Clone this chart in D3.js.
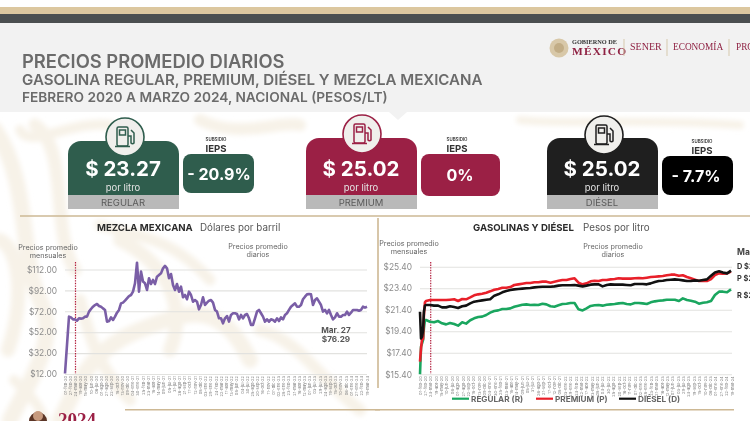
<!DOCTYPE html>
<html><head><meta charset="utf-8">
<script src="https://cdn.jsdelivr.net/npm/d3@7"></script>
<style>
html,body{margin:0;padding:0;background:#fff;overflow:hidden}
svg{display:block;font-family:Inter,"Open Sans",sans-serif;filter:blur(.35px)}
</style></head><body><svg id="c" width="750" height="421"></svg>
<script>
// ---------- data ----------
const tickLabels=["01-feb-20","27-feb-20","24-mar-20","19-abr-20","15-may-20","10-jun-20","06-jul-20","01-ago-20","27-ago-20","22-sep-20","18-oct-20","13-nov-20","09-dic-20","04-ene-21","30-ene-21","25-feb-21","23-mar-21","18-abr-21","14-may-21","09-jun-21","05-jul-21","31-jul-21","26-ago-21","21-sep-21","17-oct-21","12-nov-21","08-dic-21","03-ene-22","29-ene-22","24-feb-22","22-mar-22","17-abr-22","13-may-22","08-jun-22","04-jul-22","30-jul-22","25-ago-22","20-sep-22","16-oct-22","11-nov-22","07-dic-22","02-ene-23","28-ene-23","23-feb-23","21-mar-23","16-abr-23","12-may-23","07-jun-23","03-jul-23","29-jul-23","24-ago-23","19-sep-23","15-oct-23","10-nov-23","06-dic-23","01-ene-24","27-ene-24","22-feb-24","19-mar-24"];
const mezclaTicks=[12,32,52,72,92,112];
const gasTicks=[15.4,17.4,19.4,21.4,23.4,25.4];
const mezcla=[12.5,39.8,66.9,66.2,64.3,64.3,63,65.3,65,65.3,66.9,66.9,71.7,74.2,76.4,78,79,77.1,76.4,74.8,73.3,62.1,62.7,66.2,63.7,66.9,70.7,73.3,79.6,80.3,82.2,84.4,86.6,87.6,90.8,98.8,118.5,90.8,110,100.4,98.8,92.4,103.6,98.1,102,98.1,105.1,106.7,108.3,113.1,115.4,113.1,103.6,107.7,97.2,92.4,98.1,90.8,95.6,85.4,87.6,83.5,90.8,87.6,81.2,82.8,81.2,73.9,78,85.4,78,80.3,82.2,82.8,80.3,73.3,71.7,65.3,65.3,60.5,65.3,67.5,62.1,68.5,70.1,70.1,69.4,64.3,68.5,65.3,68.5,69.4,65.3,58.9,58.9,65.3,71.7,73.3,70.1,66.9,62.1,64.3,62.1,64.3,63.7,62.1,65.3,62.7,66.2,64.3,68.5,70.1,73.3,76.4,78,79.6,76.4,76.4,78,83.5,86,88.2,88.6,88.2,78,82.8,84.4,81.2,78,71.7,73.3,70.1,73.3,68.5,64.3,66.2,70.1,66.9,66.9,68.5,68.5,71.7,68.5,70.7,73.3,73.3,73.3,72.6,73.3,76.4,75.5,76.3];
const gasDays=[0,5,10,15,19,24,29,49,68,88,107,127,146,166,185,205,224,244,263,283,302,322,341,361,380,400,419,439,458,478,497,517,536,556,575,595,614,634,653,673,692,712,731,751,770,790,809,829,848,868,887,907,926,946,965,985,1004,1024,1043,1063,1082,1102,1121,1141,1160,1180,1199,1219,1238,1258,1277,1297,1316,1336,1355,1375,1394,1414,1433,1453,1472,1492,1511];
const regular=[15.4,17.97,18.28,18.59,19.67,20.45,20.45,20.29,20.23,20.35,20.14,20.04,20.17,20.07,19.92,20.23,20.11,20.42,20.6,20.72,20.76,20.91,21.13,21.28,21.34,21.47,21.47,21.53,21.68,21.78,21.87,21.9,21.84,21.87,21.84,21.96,21.9,21.72,21.68,21.81,21.93,21.96,22.03,22.03,21.44,21.34,21.53,21.75,21.81,21.84,21.78,21.87,21.9,21.93,21.99,22.03,21.93,21.9,22.03,22.03,21.99,21.93,22.09,22.18,22.24,22.27,22.33,22.33,22.33,22.21,22.46,22.3,22.24,22.15,21.96,22.05,22.09,22.21,22.77,23.08,23.08,23.02,23.29];
const premium=[16.58,17.81,18.68,18.68,20.91,22.09,22.21,22.3,22.3,22.3,22.3,22.3,22.33,22.37,22.21,22.4,22.37,22.55,22.74,22.83,22.89,22.98,23.11,23.26,23.33,23.45,23.45,23.51,23.7,23.76,23.82,23.88,23.88,23.95,23.95,24.01,24.01,23.91,24.01,24.1,24.16,24.16,24.25,24.32,23.91,23.76,23.85,24.04,24.1,24.07,24.16,24.16,24.22,24.25,24.32,24.29,24.29,24.29,24.32,24.35,24.32,24.38,24.44,24.47,24.5,24.53,24.6,24.66,24.66,24.56,24.6,24.44,24.32,24.19,24.07,24.1,24.07,24.25,24.63,24.78,24.75,24.78,24.94];
const diesel=[21.22,18.74,18.9,19.52,21.22,21.78,21.84,21.84,21.78,21.78,21.62,21.62,21.72,21.65,21.56,21.72,21.78,21.99,22.15,22.21,22.27,22.33,22.37,22.71,22.83,23.02,23.14,23.23,23.29,23.33,23.36,23.39,23.42,23.48,23.51,23.54,23.54,23.54,23.57,23.64,23.67,23.67,23.67,23.7,23.64,23.57,23.64,23.73,23.76,23.76,23.57,23.7,23.76,23.73,23.73,23.73,23.7,23.67,23.79,23.79,23.79,23.76,23.85,23.98,24.07,24.1,24.16,24.19,24.22,24.19,24.13,24.07,24.07,24.13,24.1,24.16,24.22,24.56,24.87,24.97,24.87,24.78,25.03];
const cards=[
 {name:"REGULAR",price:"$ 23.27",sub:"- 20.9%",col:"#2f5d4d",bx:68,bw:111,by:141,cx:125,cy:137,ix:183,iw:71,iy:154,ih:39,sc:216,sy:141,tc:219},
 {name:"PREMIUM",price:"$ 25.02",sub:"0%",col:"#9b2045",bx:306,bw:111,by:138,cx:362,cy:134,ix:421,iw:79,iy:154,ih:42,sc:457,sy:141,tc:460},
 {name:"DIÉSEL",price:"$ 25.02",sub:"- 7.7%",col:"#1f1f1f",bx:547,bw:111,by:138,cx:604,cy:135,ix:662,iw:71,iy:156,ih:39,sc:702,sy:143,tc:696}];
const endLabels=[["D $25.02",266],["P $25.02",278],["R $23.27",295]];
const legend=[["REGULAR (R)","#1aa65f",452],["PREMIUM (P)","#e8202a",536],["DIÉSEL (D)","#111",619]];

// ---------- page ----------
const svg=d3.select("#c");
const defs=svg.append("defs");
defs.append("filter").attr("id","soft").append("feGaussianBlur").attr("stdDeviation",2.6);
svg.append("rect").attr("width",750).attr("height",421).attr("fill","#fff");
const bg=svg.append("g").attr("fill","none").attr("stroke","#f7f2e8").attr("stroke-linecap","round").attr("filter","url(#soft)");
[["M-5 130C30 180 20 260 40 300S30 380 10 420",16],["M35 125C70 150 50 230 75 270",13],["M0 240C20 250 25 300 8 350",14],
 ["M60 420C80 380 90 350 140 330S220 300 250 360",16],["M120 240C160 260 190 300 170 350",14],["M200 120C240 140 280 120 300 125",12],
 ["M260 330C300 340 320 380 360 410",12],["M20 130C30 150 70 120 110 125",10],["M80 300C90 340 100 370 130 400",12],
 ["M100 225C130 235 170 235 210 280",11],["M14 380C30 395 40 405 44 420",10],
 ["M520 120C560 125 640 118 740 125",8]].forEach(d=>bg.append("path").attr("d",d[0]).attr("stroke-width",d[1]));
svg.append("rect").attr("y",7).attr("width",750).attr("height",7).attr("fill","#dcc79f");
svg.append("rect").attr("y",14).attr("width",750).attr("height",9).attr("fill","#4b4f50");
svg.append("rect").attr("y",23).attr("width",750).attr("height",89).attr("fill","#f2f2f2");
svg.append("path").attr("d","M389 112L398 120L407 112Z").attr("fill","#f2f2f2");
const T=(x,y,s,o={})=>{const t=svg.append("text").attr("x",x).attr("y",y).text(s)
  .attr("font-size",o.size||8).attr("font-weight",o.w||400).attr("fill",o.fill||"#666").attr("text-anchor",o.a||"start");
  if(o.font)t.attr("font-family",o.font); if(o.ls)t.attr("letter-spacing",o.ls); return t;};
T(22,68,"PRECIOS PROMEDIO DIARIOS",{size:18.4,w:600,fill:"#6b6b6b"});
T(22,85,"GASOLINA REGULAR, PREMIUM, DIÉSEL Y MEZCLA MEXICANA",{size:15.1,w:600,fill:"#6b6b6b"});
T(22,102,"FEBRERO 2020 A MARZO 2024, NACIONAL (PESOS/LT)",{size:13.7,w:600,fill:"#6b6b6b"});
// logos
const serif="Liberation Serif";
svg.append("circle").attr("cx",559).attr("cy",48).attr("r",9.5).attr("fill","#d8c8a8");
svg.append("circle").attr("cx",559).attr("cy",48).attr("r",5).attr("fill","#c2ad86");
T(572,44,"GOBIERNO DE",{size:6.3,w:700,fill:"#333",font:serif});
T(572,55,"MÉXICO",{size:11.4,w:700,fill:"#8f2243",font:serif,ls:1.2});
[624,667,729].forEach(x=>svg.append("line").attr("x1",x).attr("x2",x).attr("y1",39).attr("y2",56).attr("stroke","#d6c9ad"));
T(630,50,"SENER",{size:10,fill:"#8f2243",font:serif});
T(673,50,"ECONOMÍA",{size:9.3,fill:"#8f2243",font:serif});
T(736,50,"PROFECO",{size:9.3,fill:"#8f2243",font:serif});
// cards
cards.forEach(c=>{
  const cx=c.bx+c.bw/2-.5;
  svg.append("path").attr("d",`M${c.bx} 195V${c.by+13}a13 13 0 0 1 13 -13H${c.bx+c.bw-13}a13 13 0 0 1 13 13V195Z`).attr("fill",c.col);
  svg.append("rect").attr("x",c.bx).attr("y",195).attr("width",c.bw).attr("height",14).attr("fill","#b9b9b9");
  svg.append("circle").attr("cx",c.cx).attr("cy",c.cy).attr("r",19).attr("fill","#f0efec").attr("stroke",c.col).attr("stroke-width",1.6);
  const g=svg.append("g").attr("transform",`translate(${c.cx-9},${c.cy-11})`).attr("fill","none").attr("stroke",c.col).attr("stroke-width",1.5);
  g.append("rect").attr("x",1).attr("y",1).attr("width",11).attr("height",19).attr("rx",1.5);
  g.append("rect").attr("x",3.5).attr("y",4).attr("width",6).attr("height",5);
  g.append("path").attr("d","M-1 20.5H14M12 10h3v7a2 2 0 0 0 3 0V7l-3 -3");
  T(cx,176,c.price,{size:20.5,w:700,fill:"#fff",a:"middle"});
  T(cx,191,"por litro",{size:9.5,fill:"#e4e4e4",a:"middle"});
  T(cx,206,c.name,{size:9.5,fill:"#5a5a5a",a:"middle"});
  svg.append("rect").attr("x",c.ix).attr("y",c.iy).attr("width",c.iw).attr("height",c.ih).attr("rx",8).attr("fill",c.name==="DIÉSEL"?"#000":c.col);
  T(c.tc,c.iy+ c.ih/2+6,c.sub,{size:16,w:700,fill:"#fff",a:"middle"});
  T(c.sc,c.sy,"SUBSIDIO",{size:4.4,w:600,fill:"#333",a:"middle"});
  T(c.sc,c.sy+11,"IEPS",{size:9.6,w:700,fill:"#333",a:"middle"});
});
// frames
const tan="#cdb894";
const L=(x1,y1,x2,y2,w)=>svg.append("line").attr("x1",x1).attr("y1",y1).attr("x2",x2).attr("y2",y2).attr("stroke",tan).attr("stroke-width",w||1.6);
svg.append("rect").attr("x",378).attr("y",216).attr("width",372).attr("height",194).attr("fill","#fff");
L(20,216,750,216);L(378,218,378,388);L(125,409.7,380,409.7);L(375,409.7,734,409.7);

// ---------- charts ----------
function frame(yScale,ticks,x0,x1,fmt){
  const g=svg.append("g");
  const ya=d3.axisLeft(yScale).tickValues(ticks).tickFormat(fmt).tickSize(-(x1-x0)).tickPadding(8);
  const ga=g.append("g").attr("transform",`translate(${x0},0)`).call(ya);
  ga.select(".domain").remove();
  ga.selectAll("line").attr("stroke","#e2e2df").attr("stroke-width",1.1);
  ga.selectAll("text").attr("font-size",8.4).attr("fill","#8b8b8b").attr("font-family","Inter");
  const xs=d3.scalePoint().domain(tickLabels).range([x0,x1]);
  const xa=g.append("g").attr("transform",`translate(0,${yScale.range()[0]})`).call(d3.axisBottom(xs).tickSize(0).tickPadding(2));
  xa.select(".domain").remove();
  xa.selectAll("text").attr("font-size",4).attr("fill","#858585").attr("font-family","Inter").attr("text-anchor","end")
    .attr("dx",0).attr("dy",0).attr("transform",function(){const m=d3.select(this);return `rotate(-90 ${0} ${m.attr("y")}) translate(0,1)`;});
  return g;
}
// mezcla
const yM=d3.scaleLinear().domain([12,112]).range([374,269.5]);
const xM=d3.scaleLinear().domain([0,mezcla.length-1]).range([65,367]);
frame(yM,mezclaTicks,65,367,d=>"$"+d.toFixed(2));
const dot=(x,y0,y1)=>svg.append("line").attr("x1",x).attr("x2",x).attr("y1",y0).attr("y2",y1).attr("stroke","#b3203f").attr("stroke-width",1.2).attr("stroke-dasharray","1.4 1.2");
dot(xM(5.25),262,374);
svg.append("path").datum(mezcla).attr("fill","none").attr("stroke","#7a5ea6").attr("stroke-width",2.6).attr("stroke-linejoin","round")
  .attr("d",d3.line().x((d,i)=>xM(i)).y(d=>yM(d)));
T(97,231,"MEZCLA MEXICANA",{size:9.6,w:700,fill:"#2b2b2b"});
T(200,231,"Dólares por barril",{size:9.8,fill:"#555"});
T(48,250,"Precios promedio",{size:7.2,a:"middle"});T(48,258,"mensuales",{size:7.2,a:"middle"});
T(258,249,"Precios promedio",{size:7.2,a:"middle"});T(258,257,"diarios",{size:7.2,a:"middle"});
T(336,333,"Mar. 27",{size:8.2,w:700,fill:"#555",a:"middle"});T(336,342,"$76.29",{size:8.2,w:700,fill:"#555",a:"middle"});
// gasolinas
const yG=d3.scaleLinear().domain([15.4,25.4]).range([374.3,266.7]);
const xG=d3.scaleLinear().domain([0,1511]).range([420,731]);
frame(yG,gasTicks,420,732,d=>"$"+d.toFixed(2));
dot(xG(52),262,374);
const lineG=d3.line().x((d,i)=>xG(gasDays[i])).y(d=>yG(d));
[[regular,"#1aa65f"],[premium,"#e8202a"],[diesel,"#111"]].forEach(s=>
  svg.append("path").datum(s[0]).attr("fill","none").attr("stroke",s[1]).attr("stroke-width",2.6).attr("stroke-linejoin","round").attr("d",lineG));
T(473,231,"GASOLINAS Y DIÉSEL",{size:9.6,w:700,fill:"#2b2b2b"});
T(583,231,"Pesos por litro",{size:9.8,fill:"#555"});
T(409,246,"Precios promedio",{size:7.2,a:"middle"});T(409,254,"mensuales",{size:7.2,a:"middle"});
T(613,249,"Precios promedio",{size:7.2,a:"middle"});T(613,257,"diarios",{size:7.2,a:"middle"});
T(737,255,"Mar. 27",{size:8.5,w:700,fill:"#444"});
endLabels.forEach(e=>T(737,e[1]+3,e[0],{size:7.4,w:700,fill:"#333"}));
legend.forEach(l=>{
  svg.append("line").attr("x1",l[2]).attr("x2",l[2]+17).attr("y1",398.7).attr("y2",398.7).attr("stroke",l[1]).attr("stroke-width",2.2);
  T(l[2]+19,402,l[0],{size:8.2,w:700,fill:"#666"});
});
// bottom-left mark
svg.append("circle").attr("cx",38).attr("cy",421).attr("r",9).attr("fill","#5b3526");
svg.append("circle").attr("cx",38).attr("cy",416).attr("r",5).attr("fill","#c79a7e");
T(58,426,"2024",{size:19,w:700,fill:"#9b2045",font:serif});
</script></body></html>
